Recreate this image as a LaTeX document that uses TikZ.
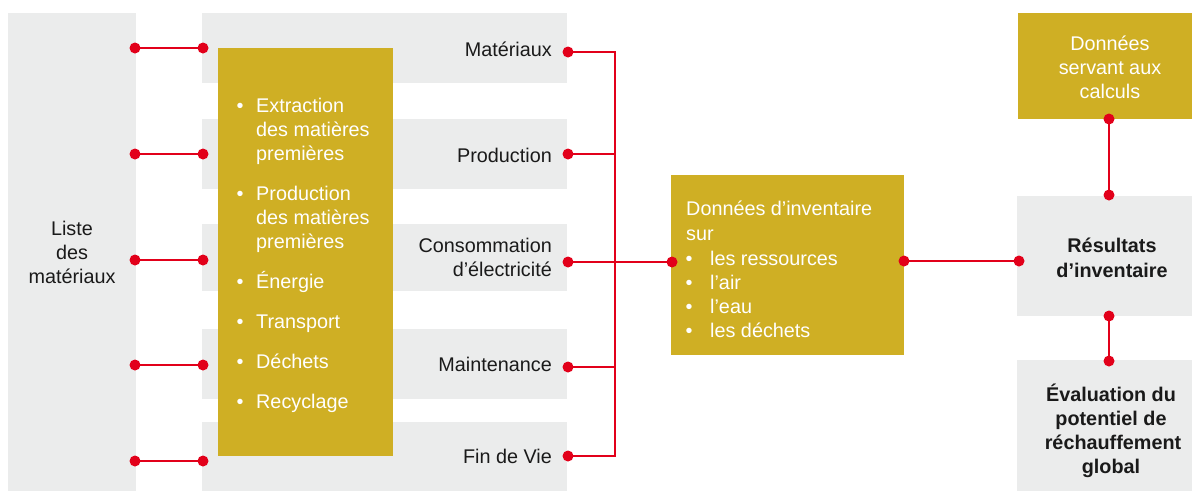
\documentclass[tikz,border=0pt]{standalone}
\usepackage{fontspec}
\setmainfont{Liberation Sans}
\definecolor{gold}{HTML}{CFAF24}
\definecolor{lgray}{HTML}{EBECEC}
\definecolor{cred}{HTML}{E2001A}
\definecolor{ink}{HTML}{1A1A1A}
\begin{document}
\begin{tikzpicture}[x=1pt,y=-1pt,
  panel/.style={fill=lgray, draw=none, inner sep=0, anchor=north west},
  goldbox/.style={fill=gold, draw=none, inner sep=0, anchor=north west},
  dot/.style={circle, fill=cred, inner sep=0, minimum size=11pt},
  link/.style={draw=cred, line width=1.5pt},
  lbl/.style={font=\fontsize{19.8}{24}\selectfont, inner sep=0, text=ink},
  wlbl/.style={lbl, text=white},
  blbl/.style={lbl, font=\fontsize{19.8}{24}\selectfont\bfseries},
]
\useasboundingbox (0,0) rectangle (1192,491);
% boxes
\node[panel, minimum width=128pt, minimum height=478pt] (liste) at (8,13) {};
\node[panel, minimum width=365pt, minimum height=70pt] (row1) at (202,13) {};
\node[panel, minimum width=365pt, minimum height=70pt] (row2) at (202,119) {};
\node[panel, minimum width=365pt, minimum height=67pt] (row3) at (202,224) {};
\node[panel, minimum width=365pt, minimum height=70pt] (row4) at (202,329) {};
\node[panel, minimum width=365pt, minimum height=69pt] (row5) at (202,422) {};
\node[goldbox, minimum width=175pt, minimum height=408pt] (glist) at (218,48) {};
\node[goldbox, minimum width=233pt, minimum height=180pt] (inv) at (671,175) {};
\node[goldbox, minimum width=174pt, minimum height=106pt] (calc) at (1018,13) {};
\node[panel, minimum width=175pt, minimum height=120pt] (res) at (1017,196) {};
\node[panel, minimum width=175pt, minimum height=131pt] (eval) at (1017,360) {};
% connector points
\coordinate (L1) at (135,48);  \coordinate (R1) at (203,48);
\coordinate (L2) at (135,154); \coordinate (R2) at (203,154);
\coordinate (L3) at (135,260); \coordinate (R3) at (203,260);
\coordinate (L4) at (135,365); \coordinate (R4) at (203,365);
\coordinate (L5) at (135,461); \coordinate (R5) at (203,461);
\coordinate (M1) at (568,52);  \coordinate (B1) at (615,52);
\coordinate (M2) at (568,154); \coordinate (B2) at (615,154);
\coordinate (M3) at (568,262);
\coordinate (M4) at (568,367); \coordinate (B4) at (615,367);
\coordinate (M5) at (568,456); \coordinate (B5) at (615,456);
\coordinate (IL) at (672,262); \coordinate (IR) at (904,261);
\coordinate (RL) at (1019,261);
\coordinate (CB) at (1109,119); \coordinate (RT) at (1109,195);
\coordinate (RB) at (1109,316); \coordinate (ET) at (1109,361);
% connectors
\foreach \i in {1,...,5} { \draw[link] (L\i) -- (R\i); }
\draw[link] (M1) -- (B1) -- (B5) -- (M5);
\draw[link] (M2) -- (B2);
\draw[link] (M4) -- (B4);
\draw[link] (M3) -- (IL);
\draw[link] (IR) -- (RL);
\draw[link] (CB) -- (RT);
\draw[link] (RB) -- (ET);
% dots
\foreach \p in {L1,L2,L3,L4,L5,R1,R2,R3,R4,R5,M1,M2,M3,M4,M5,IL,IR,RL,CB,RT,RB,ET}
  { \node[dot] (d\p) at (\p) {}; }
% texts: liste
\node[lbl, anchor=base] (t-liste1) at (72,235) {Liste};
\node[lbl, anchor=base] (t-liste2) at (72,259) {des};
\node[lbl, anchor=base] (t-liste3) at (72,283) {matériaux};
% row labels
\node[lbl, anchor=base east] (t-r1) at (552,56) {Matériaux};
\node[lbl, anchor=base east] (t-r2) at (552,162) {Production};
\node[lbl, anchor=base east] (t-r3a) at (552,252) {Consommation};
\node[lbl, anchor=base east] (t-r3b) at (552,276) {d’électricité};
\node[lbl, anchor=base east] (t-r4) at (552,371) {Maintenance};
\node[lbl, anchor=base east] (t-r5) at (552,463) {Fin de Vie};
% gold list
\foreach \y/\t/\b [count=\k] in {112/Extraction/1, 136/des matières/0, 160/premières/0,
  200/Production/1, 224/des matières/0, 248/premières/0,
  288/Énergie/1, 328/Transport/1, 368/Déchets/1, 408/Recyclage/1}
{
  \node[wlbl, anchor=base west] (g\k) at (256,\y) {\t};
  \ifnum\b=1 \node[wlbl, anchor=base] (gb\k) at (240,\y) {•}; \fi
}
% inventory box
\node[wlbl, anchor=base west] (i1) at (686,215) {Données d’inventaire};
\node[wlbl, anchor=base west] (i2) at (686,240) {sur};
\foreach \y/\t [count=\k] in {265/les ressources, 289/l’air, 313/l’eau, 337/les déchets}
{
  \node[wlbl, anchor=base] (ib\k) at (689,\y) {•};
  \node[wlbl, anchor=base west] (it\k) at (710,\y) {\t};
}
% right column
\node[wlbl, anchor=base] (c1) at (1110,50) {Données};
\node[wlbl, anchor=base] (c2) at (1110,74) {servant aux};
\node[wlbl, anchor=base] (c3) at (1110,98) {calculs};
\node[blbl, anchor=base] (r1) at (1112,252) {Résultats};
\node[blbl, anchor=base] (r2) at (1112,277) {d’inventaire};
\node[blbl, anchor=base] (e1) at (1111,401) {Évaluation du};
\node[blbl, anchor=base] (e2) at (1111,425) {potentiel de};
\node[blbl, anchor=base] (e3) at (1113,449) {réchauffement};
\node[blbl, anchor=base] (e4) at (1111,473) {global};
\end{tikzpicture}
\end{document}
